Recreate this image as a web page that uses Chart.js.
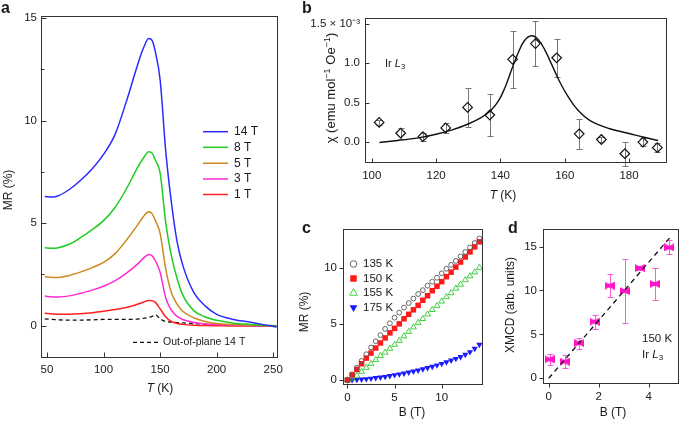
<!DOCTYPE html>
<html>
<head>
<meta charset="utf-8">
<script src="https://cdn.jsdelivr.net/npm/chart.js@4.4.0/dist/chart.umd.min.js"></script>
<style>
  body { margin: 0; background: #fff; }
  #fig { position: relative; width: 685px; height: 422px; overflow: hidden;
         font-family: 'Liberation Sans', Arial, sans-serif; color: #1a1a1a; }
  canvas { position: absolute; }
  .t { position: absolute; white-space: nowrap; font-size: 12px; line-height: 1; }
  .c { transform: translate(-50%, -50%); }
  .r { transform: translate(-50%, -50%) rotate(-90deg); }
  .lab { font-weight: bold; font-size: 16px; }
  sup { font-size: 70%; vertical-align: 0.5em; line-height: 0; }
  sub { font-size: 70%; vertical-align: -0.25em; line-height: 0; }
</style>
</head>
<body>
<div id="fig">
  <canvas id="chartA" width="288" height="400" style="left:0;top:0"></canvas>
  <canvas id="chartB" width="395" height="205" style="left:290px;top:0"></canvas>
  <canvas id="chartC" width="200" height="207" style="left:290px;top:215px"></canvas>
  <canvas id="chartD" width="190" height="207" style="left:495px;top:215px"></canvas>

  <div class="t lab" style="left:1px;top:0">a</div>
  <div class="t lab" style="left:302px;top:0">b</div>
  <div class="t lab" style="left:302px;top:220px">c</div>
  <div class="t lab" style="left:508px;top:220px">d</div>

  <div class="t r" style="left:8px;top:190px">MR (%)</div>
  <div class="t c" style="left:160px;top:388px"><i>T</i> (K)</div>

  <div class="t r" style="left:330px;top:88px;font-size:13px">χ (emu mol<sup>−1</sup> Oe<sup>−1</sup>)</div>
  <div class="t c" style="left:503px;top:195px"><i>T</i> (K)</div>
  <div class="t" style="left:385px;top:58px;font-size:11px">Ir <i>L</i><sub>3</sub></div>

  <div class="t r" style="left:304px;top:312px">MR (%)</div>
  <div class="t c" style="left:412px;top:412px">B (T)</div>

  <div class="t r" style="left:510px;top:305px">XMCD (arb. units)</div>
  <div class="t c" style="left:613px;top:412px">B (T)</div>
  <div class="t" style="left:642px;top:333px;font-size:11.5px">150 K</div>
  <div class="t" style="left:642px;top:349px;font-size:11.5px">Ir <i>L</i><sub>3</sub></div>
</div>

<script>
// ---- panel a: MR vs T
const aT = [48, 55, 60, 70, 80, 90, 100, 110, 120, 130, 135, 140, 143, 146, 150, 155, 160, 165, 170, 180, 190, 200, 215, 230, 240, 253];
const mr14 = [6.3, 6.27, 6.33, 6.65, 7.1, 7.65, 8.35, 9.3, 10.9, 12.7, 13.5, 14.0, 13.9, 13.3, 12.0, 8.5, 6.0, 4.1, 2.95, 1.6, 0.95, 0.55, 0.3, 0.16, 0.06, -0.06];
const mr8 = [3.8, 3.77, 3.8, 3.98, 4.3, 4.68, 5.12, 5.75, 6.65, 7.7, 8.15, 8.48, 8.4, 8.05, 7.45, 5.0, 3.4, 2.3, 1.5, 0.72, 0.42, 0.26, 0.12, 0.06, 0.02, -0.01];
const mr5 = [2.39, 2.35, 2.35, 2.45, 2.62, 2.83, 3.08, 3.5, 4.15, 4.9, 5.3, 5.55, 5.45, 5.1, 4.5, 2.75, 1.6, 1.05, 0.7, 0.38, 0.2, 0.1, 0.05, 0.02, 0.0, -0.02];
const mr3 = [1.44, 1.4, 1.4, 1.45, 1.58, 1.73, 1.92, 2.18, 2.55, 3.0, 3.28, 3.47, 3.4, 3.15, 2.6, 1.35, 0.75, 0.45, 0.3, 0.15, 0.08, 0.05, 0.02, 0.0, -0.02, -0.03];
const mr1 = [0.6, 0.56, 0.55, 0.55, 0.58, 0.63, 0.7, 0.78, 0.88, 1.04, 1.14, 1.22, 1.21, 1.12, 0.82, 0.42, 0.2, 0.1, 0.06, 0.02, 0.0, -0.01, -0.02, -0.02, -0.03, -0.03];
const mrOut = [0.33, 0.3, 0.28, 0.27, 0.27, 0.28, 0.3, 0.3, 0.3, 0.32, 0.35, 0.4, 0.45, 0.52, 0.33, 0.2, 0.17, 0.15, 0.13, 0.1, 0.07, 0.05, 0.02, 0.0, -0.03, -0.05];
const aXTicks = [50, 100, 150, 200, 250];
const aYTicks = [0, 5, 10, 15];
const aYMinor = [2.5, 7.5, 12.5];

// ---- panel b: chi vs T (units of 1e-3)
const bT = [102.3, 109.0, 115.9, 123.0, 129.8, 136.7, 143.8, 150.9, 157.5, 164.5, 171.4, 178.7, 184.3, 188.8];
const bChi = [0.25, 0.113, 0.07, 0.18, 0.44, 0.344, 1.05, 1.25, 1.07, 0.105, 0.033, -0.147, 0.0, -0.07];
const bErr = [0.03, 0.07, 0.05, 0.06, 0.25, 0.27, 0.36, 0.29, 0.24, 0.19, 0.03, 0.15, 0.05, 0.06];
const fitT = [102.4, 108, 114, 120, 125, 130, 134, 137, 139.5, 141.5, 143.5, 145.5, 147.5, 149.7, 151.8, 153.8, 156, 158.5, 161, 164, 168, 174, 180, 184.3, 189];
const fitChi = [-0.005, 0.02, 0.05, 0.1, 0.155, 0.23, 0.31, 0.4, 0.53, 0.7, 0.92, 1.13, 1.29, 1.35, 1.3, 1.17, 0.98, 0.76, 0.58, 0.41, 0.27, 0.17, 0.11, 0.065, 0.02];
const bXTicks = [100, 120, 140, 160, 180];
const bYTicks = [0, 0.5, 1.0, 1.5];

// ---- panel c: MR vs B
const cB = [0, 0.5, 1, 1.5, 2, 2.5, 3, 3.5, 4, 4.5, 5, 5.5, 6, 6.5, 7, 7.5, 8, 8.5, 9, 9.5, 10, 10.5, 11, 11.5, 12, 12.5, 13, 13.5, 14];
const mr135 = [0, 0.5, 1.1, 1.7, 2.3, 2.9, 3.45, 4.0, 4.55, 5.05, 5.55, 6.0, 6.45, 6.85, 7.25, 7.65, 8.0, 8.4, 8.75, 9.1, 9.5, 9.9, 10.25, 10.6, 11.0, 11.4, 11.8, 12.2, 12.6];
const mr150 = [0, 0.45, 0.95, 1.45, 1.95, 2.4, 2.85, 3.3, 3.75, 4.2, 4.6, 5.0, 5.45, 5.85, 6.25, 6.65, 7.1, 7.5, 7.95, 8.35, 8.75, 9.2, 9.6, 10.05, 10.5, 10.95, 11.4, 11.85, 12.3];
const mr155 = [0, 0.15, 0.4, 0.75, 1.1, 1.45, 1.8, 2.15, 2.45, 2.8, 3.15, 3.5, 3.9, 4.3, 4.7, 5.1, 5.45, 5.85, 6.25, 6.6, 7.0, 7.4, 7.75, 8.15, 8.5, 8.9, 9.25, 9.6, 10.0];
const mr175 = [0, 0.01, 0.03, 0.06, 0.1, 0.14, 0.19, 0.24, 0.3, 0.37, 0.45, 0.52, 0.6, 0.68, 0.77, 0.87, 0.97, 1.08, 1.2, 1.32, 1.45, 1.6, 1.75, 1.9, 2.07, 2.27, 2.5, 2.8, 3.15];
const cXTicks = [0, 5, 10];
const cYTicks = [0, 5, 10];

// ---- panel d: XMCD vs B
const dB = [0.03, 0.63, 1.22, 1.83, 2.43, 3.03, 3.64, 4.24, 4.82];
const dXmcd = [2.16, 1.9, 4.0, 6.45, 10.55, 9.95, 12.55, 10.75, 14.9];
const dErr = [0.63, 0.7, 0.62, 0.8, 1.3, 3.6, 0.25, 1.85, 0.8];
const dLineB = [0, 4.93];
const dLineX = [0, 16.3];
const dXTicks = [0, 2, 4];
const dYTicks = [0, 5, 10, 15];

const FONT = "'Liberation Sans', Arial, sans-serif";
Chart.defaults.font.family = FONT;
Chart.defaults.font.size = 11.5;
Chart.defaults.color = '#1a1a1a';

const pts = (xs, ys) => xs.map((x, i) => ({ x: x, y: ys[i] }));

// box around the plot area + tick marks
const frame = {
  id: 'frame',
  afterDraw(chart, args, o) {
    const ctx = chart.ctx, a = chart.chartArea;
    const xs = chart.scales.x, ys = chart.scales.y;
    const d = o.inward ? 1 : -1;
    const L = Math.round(a.left) + 0.5, R = Math.round(a.right) - 0.5;
    const T = Math.round(a.top) + 0.5, B = Math.round(a.bottom) - 0.5;
    ctx.save();
    ctx.strokeStyle = '#333';
    ctx.lineWidth = 1;
    ctx.strokeRect(L, T, R - L, B - T);
    ctx.beginPath();
    const xt = (v, len) => { const p = Math.round(xs.getPixelForValue(v)) + 0.5; ctx.moveTo(p, B); ctx.lineTo(p, B - d * len); };
    const yt = (v, len) => { const p = Math.round(ys.getPixelForValue(v)) + 0.5; ctx.moveTo(L, p); ctx.lineTo(L + d * len, p); };
    xs.ticks.forEach(t => xt(t.value, o.len));
    ys.ticks.forEach(t => yt(t.value, o.len));
    (o.yMinor || []).forEach(v => yt(v, o.len * 0.6));
    ctx.stroke();
    ctx.restore();
  }
};

// vertical error bars, read from dataset.errors
const errorBars = {
  id: 'errorBars',
  beforeDatasetsDraw(chart) {
    const ctx = chart.ctx, xs = chart.scales.x, ys = chart.scales.y;
    chart.data.datasets.forEach(ds => {
      if (!ds.errors) return;
      ctx.save();
      ctx.strokeStyle = ds.errorColor;
      ctx.lineWidth = 1;
      ctx.beginPath();
      ds.data.forEach((p, i) => {
        const x = Math.round(xs.getPixelForValue(p.x)) + 0.5;
        const y1 = Math.round(ys.getPixelForValue(p.y + ds.errors[i])) + 0.5;
        const y2 = Math.round(ys.getPixelForValue(p.y - ds.errors[i])) + 0.5;
        ctx.moveTo(x, y1); ctx.lineTo(x, y2);
        ctx.moveTo(x - ds.errorCap, y1); ctx.lineTo(x + ds.errorCap, y1);
        ctx.moveTo(x - ds.errorCap, y2); ctx.lineTo(x + ds.errorCap, y2);
      });
      ctx.stroke();
      ctx.restore();
    });
  }
};

// legend entries placed inside the plot
const inLegend = {
  id: 'inLegend',
  afterDraw(chart, args, o) {
    const ctx = chart.ctx;
    (o.rows || []).forEach(r => {
      const ds = chart.data.datasets[r.index];
      ctx.save();
      if (ds.showLine) {
        ctx.strokeStyle = ds.borderColor;
        ctx.lineWidth = ds.borderWidth;
        ctx.setLineDash(ds.borderDash || []);
        ctx.beginPath(); ctx.moveTo(r.x0, r.y); ctx.lineTo(r.x1, r.y); ctx.stroke();
        ctx.setLineDash([]);
      } else {
        ctx.strokeStyle = ds.pointBorderColor;
        ctx.fillStyle = ds.pointBackgroundColor;
        ctx.lineWidth = ds.pointBorderWidth;
        Chart.helpers.drawPoint(ctx, { pointStyle: ds.pointStyle, rotation: ds.pointRotation || 0, radius: r.r, borderWidth: ds.pointBorderWidth }, r.x0, r.y);
      }
      ctx.fillStyle = '#1a1a1a';
      ctx.font = r.font;
      ctx.textBaseline = 'middle';
      ctx.fillText(ds.label, r.tx, r.y);
      ctx.restore();
    });
  }
};

function makeChart(id, datasets, c) {
  return new Chart(document.getElementById(id), {
    type: 'scatter',
    data: { datasets: datasets },
    options: {
      responsive: false,
      animation: false,
      layout: { padding: { top: c.pad[0], right: c.pad[1], bottom: 0, left: 0 } },
      plugins: {
        legend: { display: false },
        tooltip: { enabled: false },
        frame: c.frame,
        inLegend: { rows: c.legend || [] }
      },
      scales: {
        x: {
          type: 'linear', min: c.x[0], max: c.x[1],
          grid: { display: false, drawTicks: false }, border: { display: false },
          ticks: { padding: c.xPad, callback: v => String(v) },
          afterBuildTicks: s => { s.ticks = c.xTicks.map(v => ({ value: v })); },
          afterFit: s => { s.height = c.xh; }
        },
        y: {
          type: 'linear', min: c.y[0], max: c.y[1],
          grid: { display: false, drawTicks: false }, border: { display: false },
          ticks: { padding: c.yPad, callback: c.yFmt || (v => String(v)) },
          afterBuildTicks: s => { s.ticks = c.yTicks.map(v => ({ value: v })); },
          afterFit: s => { s.width = c.yw; }
        }
      }
    },
    plugins: [errorBars, frame, inLegend]
  });
}

const line = (label, xs, ys, color, dash) => ({
  label: label, data: pts(xs, ys), showLine: true, borderColor: color, borderWidth: 1.5,
  borderDash: dash || [], pointRadius: 0, cubicInterpolationMode: 'monotone'
});

// panel a
makeChart('chartA', [
  line('14 T', aT, mr14, '#2b2bff'),
  line('8 T', aT, mr8, '#1fcc1f'),
  line('5 T', aT, mr5, '#cc8a1c'),
  line('3 T', aT, mr3, '#ff2bd2'),
  line('1 T', aT, mr1, '#ff2020'),
  Object.assign(line('Out-of-plane 14 T', aT, mrOut, '#111', [4, 3]), { borderWidth: 1.3 })
], {
  pad: [16, 10], x: [44.7, 254.1], y: [-1.58, 15.1], xh: 42, yw: 41,
  xPad: 5, yPad: 4, xTicks: aXTicks, yTicks: aYTicks,
  frame: { inward: true, len: 5, yMinor: aYMinor },
  legend: [
    { index: 0, x0: 203, x1: 228, tx: 234, y: 131.7, font: '12px ' + FONT },
    { index: 1, x0: 203, x1: 228, tx: 234, y: 147.3, font: '12px ' + FONT },
    { index: 2, x0: 203, x1: 228, tx: 234, y: 163.2, font: '12px ' + FONT },
    { index: 3, x0: 203, x1: 228, tx: 234, y: 179, font: '12px ' + FONT },
    { index: 4, x0: 203, x1: 228, tx: 234, y: 194.5, font: '12px ' + FONT },
    { index: 5, x0: 133, x1: 158, tx: 163, y: 342.3, font: '10.5px ' + FONT }
  ]
});

// panel b
makeChart('chartB', [
  { label: 'fit', data: pts(fitT, fitChi), showLine: true, borderColor: '#111', borderWidth: 1.4,
    pointRadius: 0, tension: 0.4 },
  { label: 'Ir L3', data: pts(bT, bChi), pointStyle: 'rectRot', pointRadius: 4.8,
    pointBorderColor: '#111', pointBackgroundColor: 'rgba(0,0,0,0)', pointBorderWidth: 1.2,
    errors: bErr, errorColor: '#777', errorCap: 3 }
], {
  pad: [18, 18], x: [97.9, 191.8], y: [-0.265, 1.575], xh: 42, yw: 75,
  xPad: 6, yPad: 5, xTicks: bXTicks, yTicks: bYTicks,
  yFmt: v => v === 1.5 ? '1.5 × 10\u207B\u00B3' : v.toFixed(1),
  frame: { inward: true, len: 4 }
});

// panel c
makeChart('chartC', [
  { label: '135 K', data: pts(cB, mr135), pointStyle: 'circle', pointRadius: 2.4,
    pointBorderColor: '#555', pointBackgroundColor: 'rgba(0,0,0,0)', pointBorderWidth: 0.9 },
  { label: '150 K', data: pts(cB, mr150), pointStyle: 'rect', pointRadius: 3.9,
    pointBorderColor: '#ff1a1a', pointBackgroundColor: '#ff1a1a', pointBorderWidth: 0 },
  { label: '155 K', data: pts(cB, mr155), pointStyle: 'triangle', pointRadius: 3.4,
    pointBorderColor: '#2ccc2c', pointBackgroundColor: 'rgba(0,0,0,0)', pointBorderWidth: 0.9 },
  { label: '175 K', data: pts(cB, mr175), pointStyle: 'triangle', pointRotation: 180, pointRadius: 3.6,
    pointBorderColor: '#1a1aff', pointBackgroundColor: '#1a1aff', pointBorderWidth: 0 }
], {
  pad: [14, 7], x: [-0.47, 14.38], y: [-0.44, 13.44], xh: 37, yw: 53,
  xPad: 6, yPad: 6, xTicks: cXTicks, yTicks: cYTicks,
  frame: { inward: false, len: 4 },
  legend: [
    { index: 0, x0: 63.5, tx: 73, y: 49, r: 3.3, font: '11.5px ' + FONT },
    { index: 1, x0: 63.5, tx: 73, y: 63.5, r: 4.6, font: '11.5px ' + FONT },
    { index: 2, x0: 63.5, tx: 73, y: 78, r: 4.4, font: '11.5px ' + FONT },
    { index: 3, x0: 63.5, tx: 73, y: 92.5, r: 4.6, font: '11.5px ' + FONT }
  ]
});

// bow-tie marker for panel d
const bowtie = document.createElement('canvas');
bowtie.width = 10; bowtie.height = 8;
(function () {
  const g = bowtie.getContext('2d');
  g.fillStyle = '#ff14c8';
  g.beginPath();
  g.moveTo(0, 0); g.lineTo(4, 2); g.lineTo(6, 2); g.lineTo(10, 0);
  g.lineTo(10, 8); g.lineTo(6, 6); g.lineTo(4, 6); g.lineTo(0, 8);
  g.closePath(); g.fill();
})();

// panel d
makeChart('chartD', [
  { label: 'fit', data: pts(dLineB, dLineX), showLine: true, borderColor: '#111', borderWidth: 1.3,
    borderDash: [5, 4], pointRadius: 0 },
  { label: 'XMCD', data: pts(dB, dXmcd), pointStyle: bowtie, pointRadius: 5,
    errors: dErr, errorColor: '#ff5ad8', errorCap: 3 }
], {
  pad: [14, 1], x: [-0.23, 5.21], y: [-0.65, 17.0], xh: 38, yw: 48,
  xPad: 6, yPad: 6, xTicks: dXTicks, yTicks: dYTicks,
  frame: { inward: false, len: 4 }
});
</script>
</body>
</html>
